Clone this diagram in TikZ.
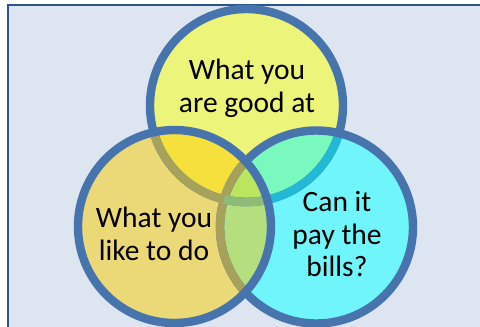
\documentclass[tikz,border=0pt]{standalone}
\usepackage{fontspec}
\setmainfont{Carlito}
\definecolor{pagebg}{HTML}{DDE5F1}
\definecolor{framecol}{HTML}{2A5590}
\definecolor{ringblue}{HTML}{4874AD}
\definecolor{fillT}{HTML}{ECF47A}
\definecolor{fillL}{HTML}{EBD877}
\definecolor{fillR}{HTML}{70F6FA}
\definecolor{fillTL}{HTML}{F6E03C}
\definecolor{fillTR}{HTML}{7AF9BE}
\definecolor{fillLR}{HTML}{B5DF7E}
\definecolor{fillTLR}{HTML}{B9E65E}
\definecolor{ringOlive}{HTML}{A6A25C}
\definecolor{ringTeal}{HTML}{22B8D6}
\definecolor{ringGreen}{HTML}{8DBB78}
\newcommand{\circT}{(246.5,-105.5) circle[radius=96.5]}
\newcommand{\circL}{(174.5,-226.5) circle[radius=96.5]}
\newcommand{\circR}{(316.5,-227) circle[radius=96.5]}
\tikzset{
  ring/.style={line width=8.4pt},
  label text/.style={font=\fontsize{29.5}{32.5}\selectfont, align=center, text=black, inner sep=0pt}
}
\begin{document}
\begin{tikzpicture}[x=1pt,y=1pt]
\useasboundingbox (0,0) rectangle (480,-327);
\fill[white] (0,0) rectangle (480,-327);
\fill[pagebg] (8,-5) rectangle (480,-327);
\draw[framecol,line width=2.4pt] (8,-327) -- (8,-5) -- (480,-5);
% fills
\fill[fillT] \circT;
\fill[fillR] \circR;
\fill[fillL] \circL;
\begin{scope}\clip \circT; \fill[fillTL] \circL; \fill[fillTR] \circR; \end{scope}
\begin{scope}\clip \circL; \fill[fillLR] \circR; \end{scope}
\begin{scope}\clip \circT; \clip \circL; \fill[fillTLR] \circR; \end{scope}
% rings, back to front
\draw[ring,ringblue] \circT;
\begin{scope}\clip \circR; \draw[ring,ringTeal] \circT; \end{scope}
\draw[ring,ringblue] \circR;
\begin{scope}\clip \circL; \draw[ring,ringOlive] \circT; \draw[ring,ringOlive] \circR; \end{scope}
\begin{scope}\clip \circL; \clip \circR; \draw[ring,ringGreen] \circT; \end{scope}
\draw[ring,ringblue] \circL;
% labels
\node[label text] (good) at (247,-88.5) {What you\\are good at};
\node[label text] (like) at (154,-234) {What you\\like to do};
\node[label text] (bills) at (337,-234) {Can it\\pay the\\bills?};
\end{tikzpicture}
\end{document}
